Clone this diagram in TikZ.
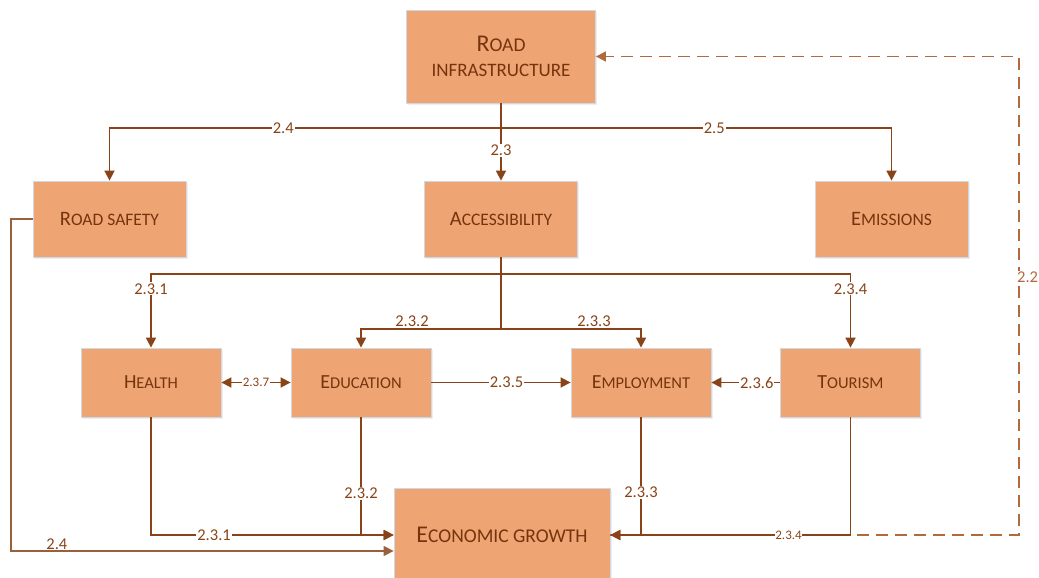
\documentclass[tikz,border=0pt]{standalone}
\usepackage{fontspec}
\setmainfont{Carlito}
\usetikzlibrary{arrows.meta,shadows}

\definecolor{boxfill}{RGB}{238,165,115}
\definecolor{boxedge}{RGB}{208,216,226}
\definecolor{ink}{RGB}{118,52,14}
\definecolor{wire}{RGB}{136,68,24}
\definecolor{softwire}{RGB}{178,106,60}

% hand-made small capitals: first letter, then the rest in a smaller size
\newcommand\scRow[2]{{\fontsize{20.5}{24}\selectfont #1}{\fontsize{17.5}{24}\selectfont #2}}
\newcommand\scLow[2]{{\fontsize{20}{24}\selectfont #1}{\fontsize{16.5}{24}\selectfont #2}}
\newcommand\scBig[2]{{\fontsize{24}{26}\selectfont #1}{\fontsize{19.5}{26}\selectfont #2}}

\begin{document}
\begin{tikzpicture}[x=1pt,y=-1pt,
  box/.style={rectangle, draw=boxedge, line width=0.8pt, fill=boxfill, text=ink,
    inner sep=0pt, align=center,
    drop shadow={shadow xshift=1.5pt, shadow yshift=-2pt, fill=boxedge!70, opacity=0.6}},
  wide/.style={box, minimum width=153pt, minimum height=76pt},
  narrow/.style={box, minimum width=140pt, minimum height=69pt},
  wire/.style={draw=wire, line width=1.7pt},
  arr/.style={wire, -{Triangle[length=10pt,width=10pt]}},
  biarr/.style={wire, {Triangle[length=10pt,width=10pt]}-{Triangle[length=10pt,width=10pt]}},
  lab/.style={fill=white, inner sep=1pt, text=wire, font=\fontsize{16.5}{16.5}\selectfont},
  smalllab/.style={lab, inner sep=0.5pt, font=\fontsize{13}{13}\selectfont},
]
\useasboundingbox (0,0) rectangle (1039,578);

% boxes
\node[box, minimum width=189pt, minimum height=93pt, font=\fontsize{19}{25}\selectfont]
  (infra) at (501,56.5) {\scBig{R}{OAD}\\INFRASTRUCTURE};
\node[wide] (safety) at (109.5,219) {\scRow{R}{OAD SAFETY}};
\node[wide] (access) at (501,219) {\scRow{A}{CCESSIBILITY}};
\node[wide] (emis)   at (891.5,219) {\scRow{E}{MISSIONS}};
\node[narrow] (health) at (151,382.5) {\scLow{H}{EALTH}};
\node[narrow] (edu)    at (361,382.5) {\scLow{E}{DUCATION}};
\node[narrow] (employ) at (641,382.5) {\scLow{E}{MPLOYMENT}};
\node[narrow] (tour)   at (850.5,382.5) {\scLow{T}{OURISM}};
\node[box, minimum width=216pt, minimum height=94pt] (econ) at (502,535)
  {\scBig{E}{CONOMIC GROWTH}};

% junctions of the branching lines
\coordinate (j1) at (501,128);
\coordinate (j2) at (501,274);
\coordinate (j3) at (501,329);

% feedback from growth to infrastructure (dashed, drawn under the solid lines)
\coordinate (d1) at (1019,535);
\coordinate (d2) at (1019,56.5);
\draw[draw=softwire, line width=1.7pt, dash pattern=on 12pt off 7pt,
      -{Triangle[length=10pt,width=10pt]}]
  (econ.east) -- (d1) -- (d2) -- (infra.east);
\node[lab, text=softwire, anchor=west, inner sep=1pt] (l22) at (1016,277) {2.2};

% road infrastructure branches
\draw[wire] (infra.south) -- (j1);
\draw[arr] (j1) -| node[lab, pos=0.278] {2.4} (safety.north);
\draw[arr] (j1) -| node[lab, pos=0.273] {2.5} (emis.north);
\draw[arr] (j1) -- node[lab, pos=0.42] {2.3} (access.north);

% accessibility branches
\draw[wire] (access.south) -- (j3);
\draw[arr] (j2) -| node[lab, pos=0.6] {2.3.1} (health.north);
\draw[arr] (j2) -| node[lab, pos=0.6] {2.3.4} (tour.north);
\draw[arr] (j3) -| node[lab, pos=0.318, yshift=8pt] {2.3.2} (edu.north);
\draw[arr] (j3) -| node[lab, pos=0.332, yshift=8pt] {2.3.3} (employ.north);

% links between the four sectors
\draw[biarr] (health.east) -- node[smalllab] {2.3.7} (edu.west);
\draw[arr] (edu.east) -- node[lab, pos=0.54] {2.3.5} (employ.west);
\draw[arr] (tour.west) -- node[lab, pos=0.34] {2.3.6} (employ.east);

% sectors into economic growth
\draw[arr] (health.south) |- node[lab, pos=0.63] {2.3.1} (econ.west);
\draw[arr] (edu.south) |- node[lab, pos=0.322] {2.3.2} (econ.west);
\draw[arr] (employ.south) |- node[lab, pos=0.318] {2.3.3} (econ.east);
\draw[arr] (tour.south) |- node[smalllab, pos=0.629] {2.3.4} (econ.east);

% road safety into economic growth
\coordinate (s1) at (11,219);
\coordinate (s2) at (11,551);
\draw[draw=wire!85, line width=1.3pt, -{Triangle[length=10pt,width=10pt]}]
  (safety.west) -- (s1) -- (s2) -- node[pos=0.12, above, inner sep=1pt, text=wire,
  font=\fontsize{16.5}{16.5}\selectfont] {2.4} (econ.west |- s2);
\end{tikzpicture}
\end{document}
